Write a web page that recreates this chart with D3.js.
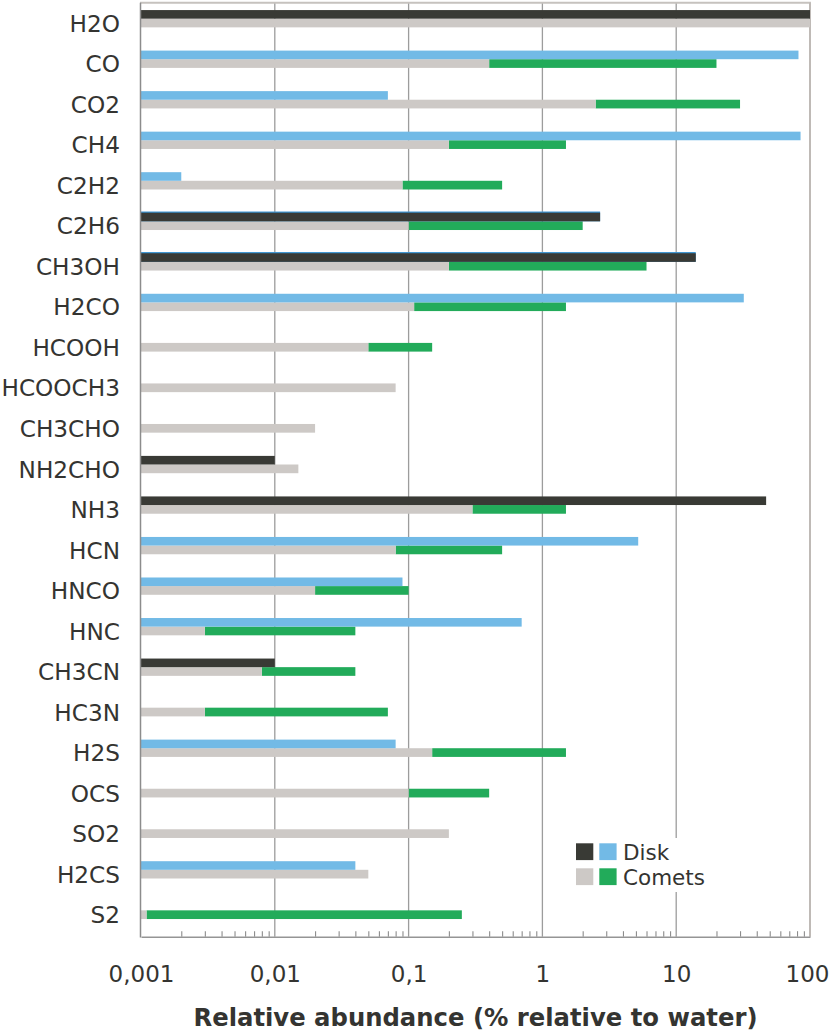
<!DOCTYPE html>
<html>
<head>
<meta charset="utf-8">
<script src="https://cdn.jsdelivr.net/npm/d3@7"></script>
<style>
  html, body { margin: 0; padding: 0; background: #fff; }
  svg { display: block; }
  text { font-family: "DejaVu Sans", Verdana, sans-serif; fill: #343431; }
</style>
</head>
<body>
<svg id="chart" width="830" height="1033"></svg>
<script>
const categories = ["H2O","CO","CO2","CH4","C2H2","C2H6","CH3OH","H2CO","HCOOH","HCOOCH3","CH3CHO","NH2CHO","NH3","HCN","HNCO","HNC","CH3CN","HC3N","H2S","OCS","SO2","H2CS","S2"];
// Disk values (dark series and light-blue series)
const diskDark = [100, null, null, null, null, 2.7, 14, null, null, null, null, 0.01, 47, null, null, null, 0.01, null, null, null, null, null, null];
const diskBlue = [null, 82, 0.07, 85, 0.002, 2.7, 14, 32, null, null, null, null, null, 5.2, 0.09, 0.7, null, null, 0.08, null, null, 0.04, null];
// Comets: grey up to minimum, green from minimum to maximum
const cometMin = [100, 0.4, 2.5, 0.2, 0.09, 0.1, 0.2, 0.11, 0.05, 0.08, 0.02, 0.015, 0.3, 0.08, 0.02, 0.003, 0.008, 0.003, 0.15, 0.1, 0.2, 0.05, 0.0011];
const cometMax = [100, 20, 30, 1.5, 0.5, 2, 6, 1.5, 0.15, 0.08, 0.02, 0.015, 1.5, 0.5, 0.1, 0.04, 0.04, 0.07, 1.5, 0.4, 0.2, 0.05, 0.25];
const tickValues = [0.001, 0.01, 0.1, 1, 10, 100];
const tickLabels = ["0,001", "0,01", "0,1", "1", "10", "100"];
const legendLabels = ["Disk", "Comets"];

const colors = { dark: "#393a35", blue: "#72bae6", grey: "#cdc9c6", green: "#22ab5a" };

const svg = d3.select("#chart");
const plotTop = 2.7, plotBottom = 936.7, plotLeft = 141, plotRight = 810;

const x = d3.scaleLog().domain([0.001, 100]).range([plotLeft, plotRight]);
const y = d3.scaleBand().domain(categories).range([plotTop, 934.9]).paddingInner(0).paddingOuter(0);
const cy = c => y(c) + y.bandwidth() / 2;
const barH = 8.6;

// gridlines
svg.append("g").selectAll("line").data(tickValues.slice(1, -1)).join("line")
  .attr("x1", d => x(d)).attr("x2", d => x(d))
  .attr("y1", plotTop).attr("y2", plotBottom)
  .attr("stroke", "#9c9c9c").attr("stroke-width", 1.3);

// frame top and right
svg.append("line").attr("x1", plotLeft - 1).attr("x2", plotRight + 1).attr("y1", plotTop).attr("y2", plotTop)
  .attr("stroke", "#c6c2be").attr("stroke-width", 2);
svg.append("line").attr("x1", plotRight).attr("x2", plotRight).attr("y1", plotTop).attr("y2", plotBottom)
  .attr("stroke", "#bfbab6").attr("stroke-width", 2);

const rows = categories.map((c, i) => ({ c, dark: diskDark[i], blue: diskBlue[i], min: cometMin[i], max: cometMax[i] }));
const bars = svg.append("g");

// comets: green range then grey
bars.selectAll("rect.green").data(rows.filter(r => r.max > r.min)).join("rect")
  .attr("class", "green")
  .attr("x", r => x(r.min)).attr("width", r => x(r.max) - x(r.min))
  .attr("y", r => cy(r.c) - 4.3).attr("height", barH + 0.1)
  .attr("fill", colors.green);
bars.selectAll("rect.grey").data(rows).join("rect")
  .attr("class", "grey")
  .attr("x", x(0.001)).attr("width", r => x(r.min) - x(0.001))
  .attr("y", r => cy(r.c) - 4.3).attr("height", barH + 0.1)
  .attr("fill", colors.grey);
// disk: blue then dark on top
bars.selectAll("rect.blue").data(rows.filter(r => r.blue != null)).join("rect")
  .attr("class", "blue")
  .attr("x", x(0.001)).attr("width", r => x(r.blue) - x(0.001))
  .attr("y", r => cy(r.c) - 4.3 - barH - (r.dark != null ? 1.2 : 0)).attr("height", r => barH + (r.dark != null ? 1.2 : 0))
  .attr("fill", r => r.dark != null ? "#3a93cf" : colors.blue);
bars.selectAll("rect.dark").data(rows.filter(r => r.dark != null)).join("rect")
  .attr("class", "dark")
  .attr("x", x(0.001)).attr("width", r => x(r.dark) - x(0.001))
  .attr("y", r => cy(r.c) - 4.3 - barH).attr("height", barH)
  .attr("fill", colors.dark);

// left axis line
svg.append("line").attr("x1", 140.5).attr("x2", 140.5).attr("y1", plotTop).attr("y2", plotBottom + 0.8)
  .attr("stroke", "#8c8c8c").attr("stroke-width", 1.5);

// category labels
svg.append("g").selectAll("text").data(categories).join("text")
  .attr("x", 120).attr("y", c => cy(c) + 8.7)
  .attr("text-anchor", "end").attr("font-size", 23.2)
  .text(c => c);

// legend (white box hides gridline)
const lg = svg.append("g");
lg.append("rect").attr("x", 566).attr("y", 838).attr("width", 160).attr("height", 54).attr("fill", "#fff");
const legendRows = [
  { label: legendLabels[0], c1: colors.dark, c2: colors.blue, y: 843.3 },
  { label: legendLabels[1], c1: colors.grey, c2: colors.green, y: 868.3 }
];
legendRows.forEach(r => {
  lg.append("rect").attr("x", 576).attr("y", r.y).attr("width", 17.3).attr("height", 16.8).attr("fill", r.c1);
  lg.append("rect").attr("x", 599.3).attr("y", r.y).attr("width", 17.3).attr("height", 16.8).attr("fill", r.c2);
  lg.append("text").attr("x", 623).attr("y", r.y + 16.8).attr("font-size", 21.5).text(r.label);
});

// bottom axis: minor ticks
const minor = [];
[0.001, 0.01, 0.1, 1, 10].forEach(d => { for (let k = 2; k <= 9; k++) minor.push(k * d); });
const minorAxis = svg.append("g").attr("transform", `translate(0,${plotBottom})`)
  .call(d3.axisBottom(x).tickValues(minor).tickSize(-5.5).tickFormat(""));
minorAxis.select(".domain").remove();
minorAxis.selectAll("line").attr("stroke", "#8c8c8c").attr("stroke-width", 1.1);

// bottom axis: labels and line
const axis = svg.append("g").attr("transform", `translate(0,${plotBottom})`)
  .call(d3.axisBottom(x).tickValues(tickValues).tickFormat((d, i) => tickLabels[i]).tickSize(0));
axis.select(".domain").attr("stroke", "#959595").attr("stroke-width", 1.6);
axis.selectAll("text").attr("y", 45.5).attr("dy", 0).attr("font-size", 23)
  .attr("font-family", '"DejaVu Sans", Verdana, sans-serif').attr("fill", "#343431");
// keep the last label inside the page edge
axis.selectAll(".tick").filter(d => d === 100).select("text")
  .attr("text-anchor", "end").attr("x", 829 - x(100));

// x-axis title
svg.append("text").attr("x", (plotLeft + plotRight) / 2).attr("y", 1026)
  .attr("text-anchor", "middle").attr("font-size", 24.3).attr("font-weight", "bold")
  .text("Relative abundance (% relative to water)");
</script>
</body>
</html>
